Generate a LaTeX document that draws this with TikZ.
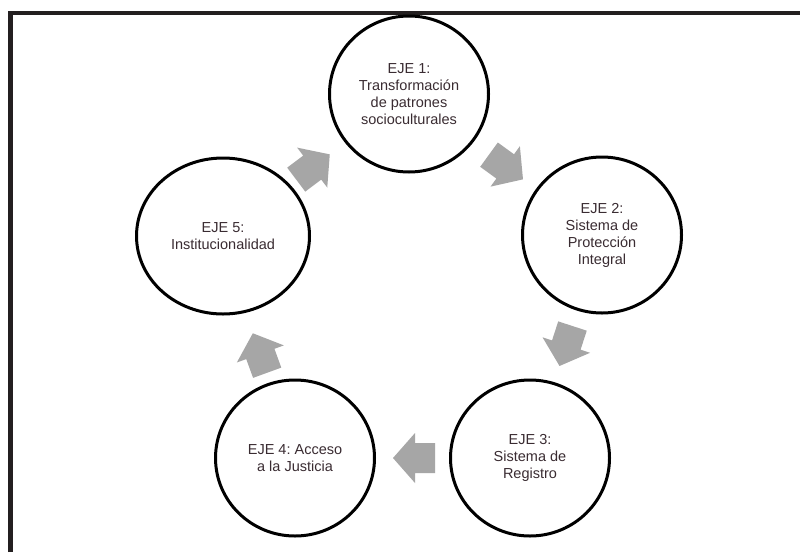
\documentclass[tikz,border=0pt]{standalone}
\usepackage{fontspec}
\setmainfont{Liberation Sans}
\usetikzlibrary{shapes.geometric}
\definecolor{framecol}{RGB}{35,31,32}
\definecolor{arrowgray}{RGB}{166,166,166}
\definecolor{txtcol}{RGB}{58,44,50}
\tikzset{
  eje/.style={draw=black, line width=3pt, ellipse, inner sep=0pt,
    minimum width=159pt, minimum height=156pt, align=center,
    text=txtcol, font=\frenchspacing\fontsize{14.5}{17}\selectfont},
  blockarrow/.pic={
    \fill[arrowgray] (-21,-15) -- (-1,-15) -- (-1,-25) -- (21,0) -- (-1,25)
      -- (-1,15) -- (-21,15) -- cycle;
  }
}
\begin{document}
\begin{tikzpicture}[x=1pt,y=-1pt]
\useasboundingbox (0,0) rectangle (800,552);
\fill[white] (0,0) rectangle (800,552);
% frame
\draw[framecol, line width=4.5pt] (10.5,552) -- (10.5,13) -- (800,13);
% circles
\node[eje] (e1) at (409,94) {EJE 1:\\Transformación\\de patrones\\socioculturales};
\node[eje] (e2) at (602,235) {EJE 2:\\Sistema de\\Protección\\Integral};
\node[eje] (e3) at (530,458) {EJE 3:\\Sistema de\\Registro};
\node[eje] (e4) at (295,458) {EJE 4: Acceso\\a la Justicia};
\node[eje, minimum width=173pt] (e5) at (223,236) {EJE 5:\\Institucionalidad};
% block arrows
\pic[rotate=-36] at (506,167) {blockarrow};
\pic[rotate=-108] at (566,346) {blockarrow};
\pic[rotate=180] at (414,458) {blockarrow};
\pic[rotate=110] at (260,353) {blockarrow};
\pic[rotate=37] at (313,167) {blockarrow};
\end{tikzpicture}
\end{document}
